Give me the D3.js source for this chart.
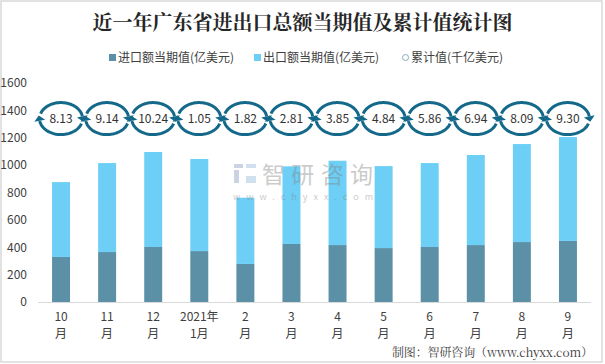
<!DOCTYPE html>
<html><head><meta charset="utf-8">
<script src="https://cdn.jsdelivr.net/npm/d3@7"></script>
<style>body{margin:0;background:#fff}svg{display:block}</style>
</head><body>
<script>
const categories = ["10\n月","11\n月","12\n月","2021年\n1月","2\n月","3\n月","4\n月","5\n月","6\n月","7\n月","8\n月","9\n月"];
const importVals = [329,365,402,372,278,424,416,394,402,416,438,446];
const exportVals = [547,650,694,673,484,567,616,599,613,658,716,759];
const cumulative = ["8.13","9.14","10.24","1.05","1.82","2.81","3.85","4.84","5.86","6.94","8.09","9.30"];
const yTicks = [0,200,400,600,800,1000,1200,1400,1600];
const seriesNames = ["进口额当期值(亿美元)","出口额当期值(亿美元)","累计值(千亿美元)"];

const W=605,H=364;
const svg=d3.select("body").append("svg").attr("width",W).attr("height",H);
const font="'Noto Sans CJK SC','Noto Sans',sans-serif";
svg.append("rect").attr("x",1).attr("y",1).attr("width",601).attr("height",361)
  .attr("fill","#fff").attr("stroke","#d9d9d9").attr("stroke-width",1.5);

const x=d3.scaleBand().domain(d3.range(12)).range([38,591]).paddingInner(0.61).paddingOuter(0.305);
const y=d3.scaleLinear().domain([0,1600]).range([302,83]);

// title
svg.append("text").attr("x",302.5).attr("y",30).attr("text-anchor","middle")
  .attr("font-family","'Noto Serif CJK SC','Noto Sans CJK SC',serif").attr("font-weight","bold")
  .attr("font-size",20).attr("fill","#262626").text("近一年广东省进出口总额当期值及累计值统计图");

// legend
const lg=svg.append("g").attr("font-family",font).attr("font-size",12).attr("fill","#404040");
lg.append("rect").attr("x",109).attr("y",54).attr("width",7).attr("height",7).attr("fill","#5b90a7");
lg.append("text").attr("x",118).attr("y",62).text(seriesNames[0]);
lg.append("rect").attr("x",254).attr("y",54).attr("width",7).attr("height",7).attr("fill","#6dcff6");
lg.append("text").attr("x",263).attr("y",62).text(seriesNames[1]);
lg.append("circle").attr("cx",405.5).attr("cy",57.5).attr("r",3).attr("fill","#fff").attr("stroke","#8aa9bd").attr("stroke-width",1);
lg.append("text").attr("x",411).attr("y",62).text(seriesNames[2]);

// y axis labels
const ya=svg.append("g").attr("transform","translate(27,0)")
  .call(d3.axisLeft(y).tickValues(yTicks).tickFormat(d3.format("d")).tickSize(0).tickPadding(0));
ya.select(".domain").remove();
ya.selectAll("text").attr("font-family",font).attr("font-size",12).attr("fill","#404040");

// bars
const g=svg.append("g");
g.selectAll(".imp").data(importVals).join("rect")
  .attr("x",(d,i)=>x(i)).attr("width",x.bandwidth())
  .attr("y",d=>y(d)).attr("height",d=>y(0)-y(d)).attr("fill","#5b90a7");
g.selectAll(".exp").data(exportVals).join("rect")
  .attr("x",(d,i)=>x(i)).attr("width",x.bandwidth())
  .attr("y",(d,i)=>y(d+importVals[i])).attr("height",d=>y(0)-y(d)).attr("fill","#6dcff6");

// watermark (on top, translucent)
const wm=svg.append("g").attr("opacity",0.4);
wm.append("rect").attr("x",234).attr("y",164).attr("width",9).attr("height",4).attr("fill","#7f93b8");
wm.append("rect").attr("x",234).attr("y",170).attr("width",5).attr("height",13).attr("fill","#7f93b8");
wm.append("rect").attr("x",246).attr("y",164).attr("width",10).attr("height",4).attr("fill","#8fb3d9");
wm.append("rect").attr("x",246).attr("y",176).attr("width",10).attr("height",7).attr("fill","#8fb3d9");
wm.append("text").attr("x",262).attr("y",183).attr("font-family",font).attr("font-size",23)
  .attr("fill","#808080").attr("textLength",111).text("智研咨询");
wm.append("text").attr("x",233).attr("y",200).attr("font-family",font).attr("font-size",9)
  .attr("fill","#808080").attr("textLength",140).text("www.chyxx.com");

// x axis
svg.append("line").attr("x1",38).attr("x2",591).attr("y1",302.5).attr("y2",302.5)
  .attr("stroke","#d9d9d9").attr("stroke-width",1);
const xl=svg.append("g").attr("font-family",font).attr("font-size",12).attr("fill","#404040").attr("text-anchor","middle");
categories.forEach((c,i)=>{
  const parts=c.split("\n");
  const cx=x(i)+x.bandwidth()/2;
  xl.append("text").attr("x",cx).attr("y",321).text(parts[0]);
  xl.append("text").attr("x",cx).attr("y",338).text(parts[1]);
});

// cumulative circular arrows
const cy=y(1340), rx=21.5, ry=16;
const col="#14698a";
function arcPath(cx,a0,a1){
  const pts=d3.range(0,41).map(k=>{const a=(a0+(a1-a0)*k/40)*Math.PI/180;return [cx+rx*Math.cos(a),cy+ry*Math.sin(a)];});
  return d3.line()(pts);
}
function head(cx,a,dir){
  const r=a*Math.PI/180;
  const px=cx+rx*Math.cos(r), py=cy+ry*Math.sin(r);
  let tx=-rx*Math.sin(r)*dir, ty=ry*Math.cos(r)*dir;
  const L=Math.hypot(tx,ty); tx/=L; ty/=L;
  const nx=-ty, ny=tx, s=5.5;
  return `M${px+tx*s},${py+ty*s}L${px+nx*s},${py+ny*s}L${px-nx*s},${py-ny*s}Z`;
}
const cg=svg.append("g");
cumulative.forEach((v,i)=>{
  const cx=x(i)+x.bandwidth()/2;
  cg.append("path").attr("d",arcPath(cx,198,352)).attr("fill","none").attr("stroke",col).attr("stroke-width",3);
  cg.append("path").attr("d",head(cx,352,1)).attr("fill",col);
  cg.append("path").attr("d",arcPath(cx,18,172)).attr("fill","none").attr("stroke",col).attr("stroke-width",3);
  cg.append("path").attr("d",head(cx,172,1)).attr("fill",col);
  cg.append("text").attr("x",cx).attr("y",cy+4.5).attr("text-anchor","middle")
    .attr("font-family",font).attr("font-size",12).attr("fill","#333").text(v);
});

// footer
svg.append("text").attr("x",392).attr("y",357).attr("font-family","'Noto Serif CJK SC','Noto Sans CJK SC',serif")
  .attr("font-size",12).attr("fill","#404040").attr("textLength",201).text("制图：智研咨询（www.chyxx.com）");
</script>
</body></html>
